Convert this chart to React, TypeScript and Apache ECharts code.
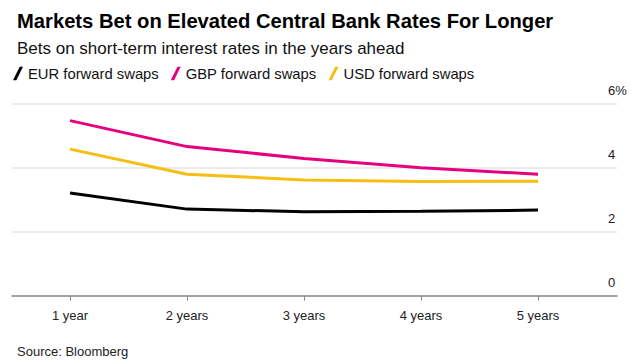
import React, { useEffect, useRef } from "react";
import * as echarts from "echarts";

const categories = ["1 year", "2 years", "3 years", "4 years", "5 years"];
const eurValues = [3.2, 2.7, 2.62, 2.63, 2.67];
const gbpValues = [5.46, 4.65, 4.28, 3.99, 3.79];
const usdValues = [4.57, 3.79, 3.61, 3.56, 3.57];
const yTicks = [0, 2, 4, 6];

const FONT = "'Liberation Sans', Arial, sans-serif";
const slash = "path://M0,14 L7,0 L10.5,0 L3.5,14 Z";

export default function App() {
  const ref = useRef<HTMLDivElement>(null);
  useEffect(() => {
    if (!ref.current) return;
    const chart = echarts.init(ref.current, null, { renderer: "svg" });
    const mk = (vals: number[]) => categories.map((_, i) => [i + 1, vals[i]]);
    chart.setOption({
      animation: false,
      backgroundColor: "#ffffff",
      textStyle: { fontFamily: FONT },
      title: [
        {
          text: "Markets Bet on Elevated Central Bank Rates For Longer",
          left: 12,
          top: 6,
          textStyle: { fontSize: 20.2, fontWeight: "bold", color: "#000", fontFamily: FONT },
        },
        {
          text: "Bets on short-term interest rates in the years ahead",
          left: 12,
          top: 35,
          textStyle: { fontSize: 17, fontWeight: "normal", color: "#111", fontFamily: FONT },
        },
        {
          text: "Source: Bloomberg",
          left: 12,
          top: 340,
          textStyle: { fontSize: 13, fontWeight: "normal", color: "#222", fontFamily: FONT },
        },
      ],
      legend: {
        left: 8,
        top: 61,
        itemWidth: 10,
        itemHeight: 14,
        itemGap: 12,
        icon: slash,
        textStyle: { fontSize: 14.8, color: "#111", fontFamily: FONT },
        data: [
          { name: "EUR forward swaps", icon: slash },
          { name: "GBP forward swaps", icon: slash },
          { name: "USD forward swaps", icon: slash },
        ],
      },
      grid: { left: 12, right: 21, top: 103.3, bottom: 68.3, containLabel: false },
      xAxis: {
        type: "value",
        min: 0.504,
        max: 5.675,
        splitLine: { show: false },
        axisLine: { show: true, lineStyle: { color: "#8a8a8a", width: 1.5 } },
        axisTick: { show: true, length: 5, lineStyle: { color: "#8a8a8a" }, customValues: [1, 2, 3, 4, 5] },
        axisLabel: {
          customValues: [1, 2, 3, 4, 5],
          formatter: (v: number) => categories[Math.round(v) - 1] ?? "",
          fontSize: 13,
          color: "#222",
          margin: 13,
          fontFamily: FONT,
        },
      },
      yAxis: {
        type: "value",
        position: "right",
        min: yTicks[0],
        max: yTicks[yTicks.length - 1],
        interval: 2,
        axisLine: { show: false },
        axisTick: { show: false },
        splitLine: { lineStyle: { color: "#e3e3e3", width: 1.5 } },
        axisLabel: {
          margin: -9,
          align: "left",
          verticalAlign: "bottom",
          lineHeight: 26,
          fontSize: 13,
          color: "#222",
          fontFamily: FONT,
          formatter: (v: number) => (v === 6 ? "6%" : String(v)),
        },
      },
      series: [
        {
          name: "EUR forward swaps",
          type: "line",
          data: mk(eurValues),
          symbol: "none",
          color: "#000000",
          lineStyle: { width: 3, color: "#000000" },
        },
        {
          name: "GBP forward swaps",
          type: "line",
          data: mk(gbpValues),
          symbol: "none",
          color: "#e5007d",
          lineStyle: { width: 3, color: "#e5007d" },
        },
        {
          name: "USD forward swaps",
          type: "line",
          data: mk(usdValues),
          symbol: "none",
          color: "#f6be12",
          lineStyle: { width: 3, color: "#f6be12" },
        },
      ],
    });
    return () => chart.dispose();
  }, []);
  return <div ref={ref} style={{ width: 638, height: 364, position: "absolute", left: 0, top: 0 }} />;
}
